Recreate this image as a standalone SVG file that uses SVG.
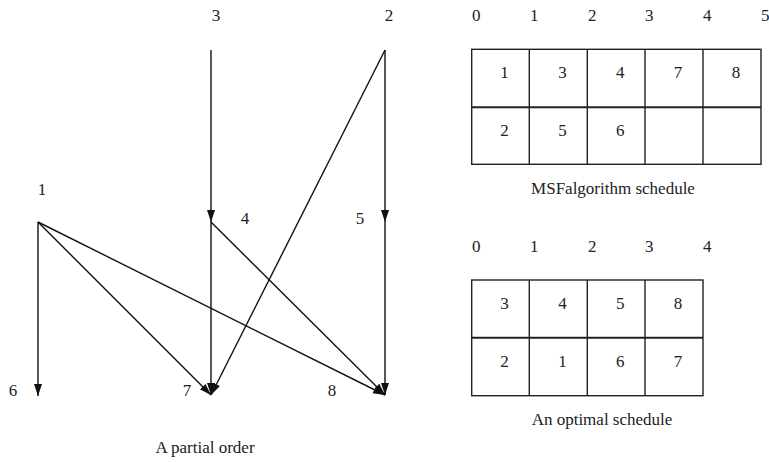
<svg xmlns="http://www.w3.org/2000/svg" width="769" height="462" viewBox="0 0 769 462">
<style>
text{font-family:'Liberation Serif','DejaVu Serif',serif;font-size:17px;fill:#222}
.c{text-anchor:middle}
.e{stroke:#111;stroke-width:1.4;fill:none}
.e.a{marker-end:url(#arr)}
.g{stroke:#222;stroke-width:1.4;fill:none}
.m{stroke:#222;stroke-width:2;fill:none}
</style>
<defs>
<marker id="arr" markerUnits="userSpaceOnUse" markerWidth="14" markerHeight="10" refX="12" refY="4" orient="auto">
<path d="M0,0 L12,4 L0,8 Z" fill="#111"/>
</marker>
</defs>
<rect width="769" height="462" fill="#fff"/>
<g id="connectors">
<line class="e a" x1="211" y1="50" x2="211" y2="222"/>
<line class="e a" x1="385" y1="50" x2="385" y2="222"/>
<line class="e a" x1="385" y1="50" x2="211" y2="395"/>
<line class="e a" x1="38" y1="222" x2="38" y2="396"/>
<line class="e a" x1="38" y1="222" x2="211" y2="395"/>
<line class="e a" x1="38" y1="222" x2="385" y2="395"/>
<line class="e a" x1="211" y1="222" x2="211" y2="395"/>
<line class="e a" x1="211" y1="222" x2="385" y2="395"/>
<line class="e a" x1="385" y1="222" x2="385" y2="395"/>
</g>
<g font-family="Liberation Serif, serif">
<g id="n3"><text class="c" x="216" y="21">3</text></g>
<g id="n2"><text class="c" x="389" y="21">2</text></g>
<g id="n1"><text class="c" x="42" y="195">1</text></g>
<g id="n4"><text class="c" x="245" y="224">4</text></g>
<g id="n5"><text class="c" x="360" y="224">5</text></g>
<g id="n6"><text class="c" x="13" y="396">6</text></g>
<g id="n7"><text class="c" x="187" y="396">7</text></g>
<g id="n8"><text class="c" x="332" y="396">8</text></g>
<g id="caption1"><text class="c" x="205" y="453">A partial order</text></g>

<g id="msf">
<text x="472" y="21">0</text><text x="530" y="21">1</text><text x="588" y="21">2</text><text x="645" y="21">3</text><text x="703" y="21">4</text><text x="761" y="21">5</text>
<rect class="g" x="471.7" y="49.3" width="289.3" height="115"/>
<line class="m" x1="471.7" y1="107.3" x2="761" y2="107.3"/>
<line class="g" x1="529.3" y1="49.3" x2="529.3" y2="164.3"/>
<line class="g" x1="587.3" y1="49.3" x2="587.3" y2="164.3"/>
<line class="g" x1="645" y1="49.3" x2="645" y2="164.3"/>
<line class="g" x1="703" y1="49.3" x2="703" y2="164.3"/>
<text class="c" x="504.5" y="78">1</text><text class="c" x="562.5" y="78">3</text><text class="c" x="620.3" y="78">4</text><text class="c" x="678" y="78">7</text><text class="c" x="736" y="78">8</text>
<text class="c" x="504.5" y="136">2</text><text class="c" x="562.5" y="136">5</text><text class="c" x="620.3" y="136">6</text>
<text class="c" x="613" y="194">MSFalgorithm schedule</text>
</g>

<g id="optimal">
<text x="472" y="252">0</text><text x="530" y="252">1</text><text x="588" y="252">2</text><text x="645" y="252">3</text><text x="703" y="252">4</text>
<rect class="g" x="471.7" y="280" width="231.3" height="115.7"/>
<line class="m" x1="471.7" y1="337.7" x2="703" y2="337.7"/>
<line class="g" x1="529.3" y1="280" x2="529.3" y2="395.7"/>
<line class="g" x1="587.3" y1="280" x2="587.3" y2="395.7"/>
<line class="g" x1="645" y1="280" x2="645" y2="395.7"/>
<text class="c" x="504.5" y="309">3</text><text class="c" x="562.5" y="309">4</text><text class="c" x="620.3" y="309">5</text><text class="c" x="678" y="309">8</text>
<text class="c" x="504.5" y="367">2</text><text class="c" x="562.5" y="367">1</text><text class="c" x="620.3" y="367">6</text><text class="c" x="678" y="367">7</text>
<text class="c" x="602" y="425">An optimal schedule</text>
</g>
</g>
</svg>
